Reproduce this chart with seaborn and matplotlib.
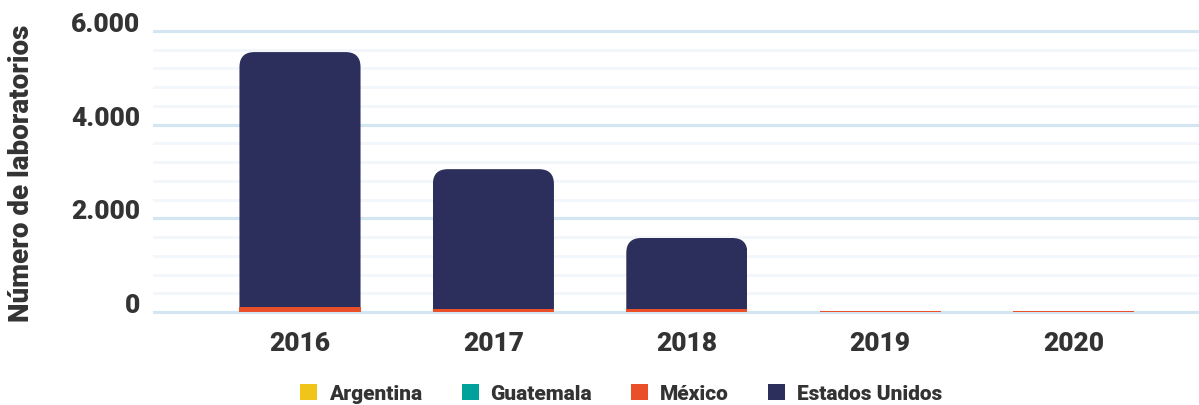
import matplotlib
matplotlib.use("Agg")
import matplotlib.pyplot as plt
from matplotlib.patches import FancyBboxPatch, Patch
from matplotlib.ticker import MultipleLocator, FuncFormatter
import numpy as np
import pandas as pd
import seaborn as sns

# ---- data ----
years = ["2016", "2017", "2018", "2019", "2020"]
argentina = [3, 2, 2, 1, 1]
guatemala = [2, 2, 1, 1, 1]
mexico = [100, 60, 55, 20, 20]
estados_unidos = [5445, 2986, 1522, 0, 0]

series_names = ["Argentina", "Guatemala", "México", "Estados Unidos"]
series_colors = ["#f0c419", "#00a19a", "#e9502a", "#2c2f5b"]

y_ticks = [0, 2000, 4000, 6000]

# ---- style ----
sns.set_theme(style="white")
plt.rcParams["font.family"] = ["Roboto", "DejaVu Sans"]
text_color = "#333333"
heavy = "black"

fig = plt.figure(figsize=(11.99, 4.06), dpi=100)
ax = fig.add_axes([153 / 1199, 1 - 315.8 / 406, 1046 / 1199, 286.6 / 406])

df = pd.DataFrame({"year": years, "Argentina": argentina, "Guatemala": guatemala,
                   "México": mexico, "Estados Unidos": estados_unidos})
# cumulative stacks (bottom -> top: Argentina, Guatemala, México, Estados Unidos)
cum = df[series_names].cumsum(axis=1)

bar_width = 0.626
layer_patches = {}
for name, color in reversed(list(zip(series_names, series_colors))):
    n_before = len(ax.patches)
    sns.barplot(x=df["year"], y=cum[name], color=color, saturation=1, order=years,
                width=bar_width, errorbar=None, ax=ax, zorder=3,
                linewidth=0, edgecolor="none")
    layer_patches[name] = ax.patches[n_before:]
    # hide segments whose own value is zero (avoid antialiasing fringes)
    for p, v in zip(layer_patches[name], df[name]):
        if v <= 0:
            p.set_visible(False)

ax.set_xlim(-0.760, 4.648)
ax.set_ylim(-60, 6060)

# grid
ax.set_yticks(y_ticks)
ax.yaxis.set_minor_locator(MultipleLocator(400))
ax.grid(False)
ax.yaxis.grid(True, which="major", color="#d3e6f1", linewidth=2.3, zorder=0)
ax.yaxis.grid(True, which="minor", color="#f2f7fb", linewidth=2.0, zorder=0)
ax.set_axisbelow(True)
for s in ax.spines.values():
    s.set_visible(False)

ax.yaxis.set_major_formatter(FuncFormatter(lambda v, p: f"{int(v):,}".replace(",", ".")))
ax.tick_params(axis="y", which="both", length=0, pad=9.5, labelsize=19, labelcolor=text_color)
ax.tick_params(axis="x", length=0, pad=12, labelsize=19, labelcolor=text_color)
for lab in ax.get_yticklabels():
    lab.set_fontweight(heavy)
    lab.set_va("baseline")
for lab in ax.get_xticklabels():
    lab.set_fontweight(heavy)

ax.set_xlabel("")
ax.set_ylabel("Número de laboratorios", fontsize=20, fontweight=heavy, color=text_color)
ax.yaxis.label.set_va("center")
ax.yaxis.set_label_coords((22 - 153) / 1046, (315.8 - 173.5) / 286.6)

# rounded top corners on the top (Estados Unidos) layer
p0 = ax.transData.transform([[0, 0], [1, 1]])
px_per_x = abs(p0[1, 0] - p0[0, 0])
px_per_y = abs(p0[1, 1] - p0[0, 1])
aspect = px_per_x / px_per_y
radius_px = 15
for p in layer_patches["Estados Unidos"]:
    x0, y0, w, h = p.get_x(), p.get_y(), p.get_width(), p.get_height()
    if h <= 0:
        continue
    ext = 2000
    clip = FancyBboxPatch((x0, y0 - ext), w, h + ext,
                          boxstyle=f"round,pad=0,rounding_size={radius_px / px_per_x}",
                          mutation_aspect=aspect, transform=ax.transData)
    p.set_clip_path(clip)

handles = [Patch(facecolor=c, edgecolor="none") for c in series_colors]
leg = fig.legend(handles, series_names, loc="center", bbox_to_anchor=(0.518, 0.028),
                 ncol=4, frameon=False, handlelength=0.82, handleheight=0.82,
                 handletextpad=0.55, columnspacing=1.9,
                 prop={"family": ["Roboto", "DejaVu Sans"], "weight": heavy, "size": 15})
for t in leg.get_texts():
    t.set_color(text_color)

fig.savefig("out.png", dpi=100)
